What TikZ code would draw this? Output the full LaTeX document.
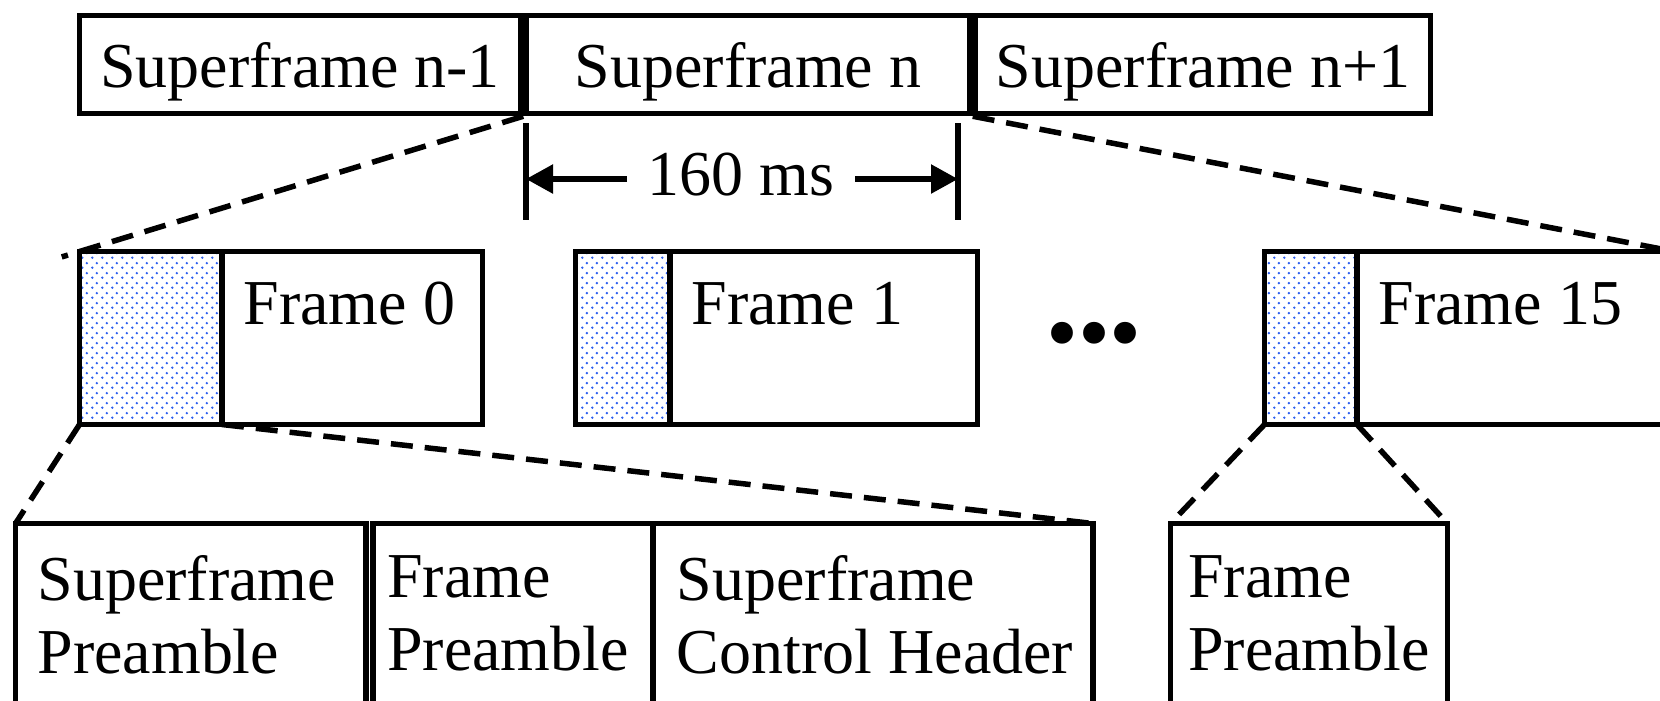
\documentclass[tikz,border=0pt]{standalone}
\usepackage{fontspec}
\setmainfont{Liberation Serif}
\usetikzlibrary{positioning,calc,arrows.meta,patterns.meta}

\definecolor{dotblue}{RGB}{45,95,240}

% staggered dot fill of the preambles
\tikzdeclarepattern{
  name=bluedots,
  type=uncolored,
  bottom left={(0pt,0pt)},
  top right={(2.85pt,2.85pt)},
  tile size={(2.85pt,2.85pt)},
  code={
    \fill (0.71pt,0.71pt) circle (0.4pt);
    \fill (2.13pt,2.13pt) circle (0.4pt);
  }
}

\begin{document}
\begin{tikzpicture}[
  every node/.style={font=\fontsize{18.2}{20.8}\selectfont},
  sfbox/.style={draw, line width=0.055cm, inner sep=0pt, minimum height=0.98cm, text depth=0pt},
  frm/.style={draw, line width=0.055cm, inner sep=0pt, outer sep=0pt, minimum height=1.73cm, anchor=north west},
  pre/.style={frm, pattern=bluedots, pattern color=dotblue},
  frmtxt/.style={inner sep=0pt, anchor=base west},
  fld/.style={draw, line width=0.055cm, inner sep=0pt, outer sep=0pt, minimum height=2.1cm, anchor=north west},
  fldtxt/.style={align=left, inner sep=0pt, anchor=north},
  zoomline/.style={line width=0.055cm, dash pattern=on 0.22cm off 0.12cm},
  dimline/.style={line width=0.055cm},
  dimarrow/.style={line width=0.055cm, -{Triangle[length=0.27cm,width=0.28cm]}}
]
  \clip (0,0) rectangle (16.6,7);

  % Superframes
  \node[sfbox, minimum width=4.41cm] (sfprev) at (3.0,6.355) {Superframe n-1};
  \node[sfbox, minimum width=4.44cm, right=0pt of sfprev] (sfcur) {Superframe n};
  \node[sfbox, minimum width=4.55cm, right=0pt of sfcur] (sfnext) {Superframe n+1};

  % Duration of one superframe
  \coordinate (dl) at (5.26,5.21);
  \coordinate (dr) at (9.58,5.21);
  \draw[dimline] ($(dl)+(0,0.56)$) -- ($(dl)+(0,-0.41)$);
  \draw[dimline] ($(dr)+(0,0.56)$) -- ($(dr)+(0,-0.41)$);
  \node[inner xsep=0.2cm] (dur) at (7.41,5.25) {160 ms};
  \draw[dimarrow] (dur.west |- dl) -- (dl);
  \draw[dimarrow] (dur.east |- dr) -- (dr);

  % Frames
  \node[frm, minimum width=4.03cm] (f0) at (0.795,4.485) {};
  \node[pre, minimum width=1.425cm] (p0) at (f0.north west) {};
  \node[frmtxt] (l0) at ($(p0.north east)+(0.21,-0.725)$) {Frame 0};

  \node[frm, minimum width=4.02cm] (f1) at (5.755,4.485) {};
  \node[pre, minimum width=0.945cm] (p1) at (f1.north west) {};
  \node[frmtxt] (l1) at ($(p1.north east)+(0.21,-0.725)$) {Frame 1};

  \node[font=\fontsize{26}{30}\selectfont] (dots) at (10.94,3.57) {•••};

  \node[frm, minimum width=4.1cm] (f15) at (12.645,4.485) {};
  \node[pre, minimum width=0.925cm] (p15) at (f15.north west) {};
  \node[frmtxt] (l15) at ($(p15.north east)+(0.21,-0.725)$) {Frame 15};

  % Preamble fields
  \node[fld, minimum width=3.505cm] (b1) at (0.155,1.765) {};
  \node[fld, minimum width=2.8cm] (b2) at (3.73,1.765) {};
  \node[fld, minimum width=4.4cm] (b3) at (b2.north east) {};
  \node[fld, minimum width=2.77cm] (b4) at (11.705,1.765) {};
  \node[fldtxt] (t1) at ($(b1.north)+(-0.04,-0.31)$) {Superframe\\Preamble};
  \node[fldtxt] (t2) at ($(b2.north)+(-0.05,-0.31)$) {Frame\\Preamble};
  \node[fldtxt] (t3) at ($(b3.north)+(0.02,-0.31)$) {Superframe\\Control Header};
  \node[fldtxt] (t4) at ($(b4.north)+(0,-0.31)$) {Frame\\Preamble};

  % Zoom lines
  \draw[zoomline] (sfcur.south west) -- ($(sfcur.south west)!1.04!(f0.north west)$);
  \draw[zoomline] (sfnext.south west) -- (f15.north east);
  \draw[zoomline] (p0.south west) -- (b1.north west);
  \draw[zoomline] (p0.south east) -- (b3.north east);
  \draw[zoomline] (p15.south west) -- (b4.north west);
  \draw[zoomline] (p15.south east) -- (b4.north east);
\end{tikzpicture}
\end{document}
